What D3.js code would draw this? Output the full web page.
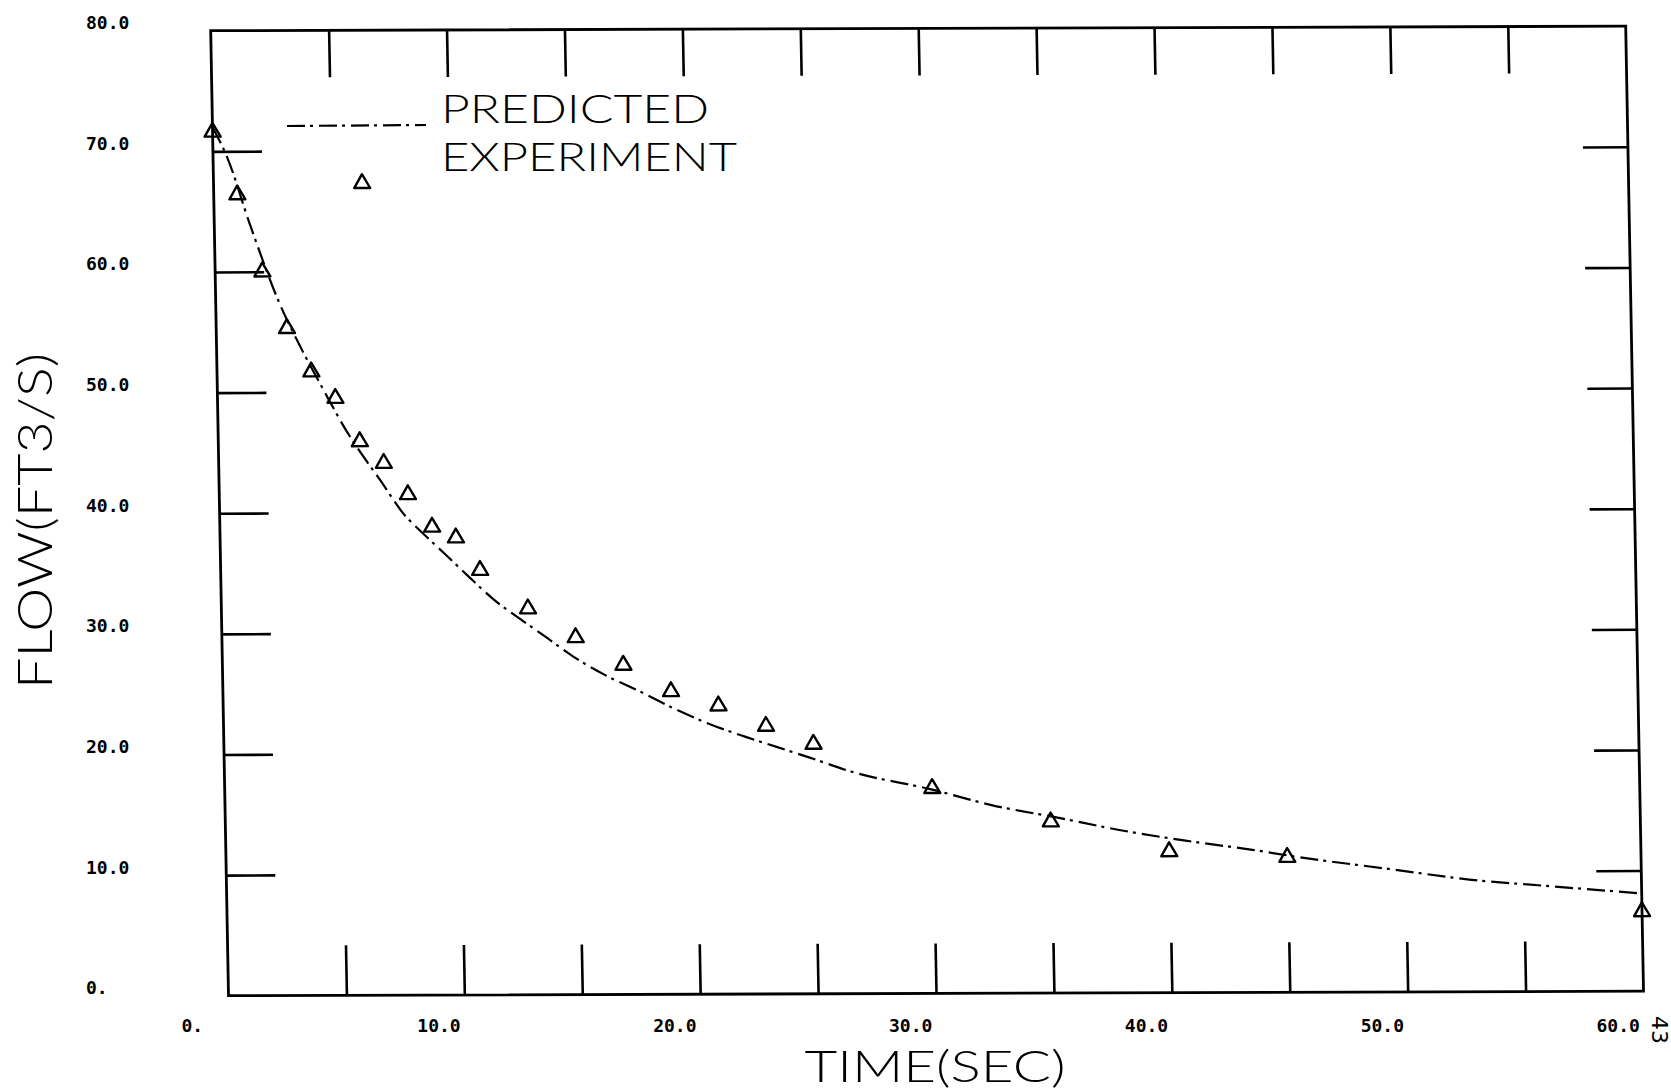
<!DOCTYPE html>
<html>
<head>
<meta charset="utf-8">
<script src="https://cdn.jsdelivr.net/npm/d3@7"></script>
<style>
  body { margin: 0; background: #fff; }
  svg { display: block; }
</style>
</head>
<body>
<div id="chart"></div>
<script>
// measured points (time in s, flow in ft3/s)
const expTime = [0, 1, 2, 3, 4, 5, 6, 6.3, 7, 8, 9, 10, 11, 13, 15, 17, 19, 21, 23, 25, 30, 35, 40, 45, 60];
const expFlow = [71.6, 66.4, 60.0, 55.3, 51.7, 49.5, 45.9, 67.3, 44.1, 41.5, 38.8, 37.9, 35.2, 32.0, 29.6, 27.3, 25.1, 23.9, 22.2, 20.7, 17.0, 14.2, 11.7, 11.2, 6.6];

// predicted curve
const predTime = [0, 0.6, 1.5, 2.7, 3.6, 4.5, 5.5, 6.3, 6.8, 7.8, 8.7, 9.5, 10.5, 11.6, 12.7, 13.7, 14.9, 16.3, 17.7, 19.1, 20.6, 22, 23.4, 24.8, 26.6, 30, 32.5, 35.4, 37.9, 40.7, 43.6, 45.5, 49.3, 52.7, 56.3, 60];
const predFlow = [72.0, 69.5, 64.0, 57.4, 53.6, 50.2, 46.6, 44.2, 42.8, 39.9, 38.1, 36.6, 34.7, 32.7, 31.1, 29.7, 28.0, 26.4, 25.1, 23.7, 22.4, 21.4, 20.5, 19.6, 18.4, 16.9, 15.6, 14.5, 13.5, 12.6, 11.8, 11.2, 10.2, 9.3, 8.7, 8.1];

// ticks and labels
const xTickVals = [5, 10, 15, 20, 25, 30, 35, 40, 45, 50, 55];
const yTickVals = [10, 20, 30, 40, 50, 60, 70];
const xLabelVals = [0, 10, 20, 30, 40, 50, 60];
const xLabels = ["0.", "10.0", "20.0", "30.0", "40.0", "50.0", "60.0"];
const yLabelVals = [80, 70, 60, 50, 40, 30, 20, 10, 0];
const yLabels = ["80.0", "70.0", "60.0", "50.0", "40.0", "30.0", "20.0", "10.0", "0."];
const legendNames = ["PREDICTED", "EXPERIMENT"];

const W = 1415, H = 965;
// the scanned sheet is a little skewed
const sk = { a: 1, b: -0.00319, c: 0.01845, d: 1, e: 210.7, f: 30.7 };
function toPage(px, py) {
  return [sk.e + sk.a * px + sk.c * py, sk.f + sk.b * px + sk.d * py];
}

const svg = d3.select("#chart")
  .append("svg")
  .attr("width", 1671)
  .attr("height", 1092);

const plot = svg.append("g")
  .attr("transform", `matrix(${sk.a},${sk.b},${sk.c},${sk.d},${sk.e},${sk.f})`);

const x = d3.scaleLinear().domain([0, 60]).range([0, W]);
const y = d3.scaleLinear().domain([0, 80]).range([H, 0]);

// inward ticks on all four sides
function ticks(g) {
  g.select(".domain").remove();
  g.selectAll(".tick line").attr("stroke", "#000").attr("stroke-width", 2.6);
}
plot.append("g")
  .attr("transform", `translate(0,${H})`)
  .call(d3.axisBottom(x).tickValues(xTickVals).tickSize(-50).tickFormat(""))
  .call(ticks);
plot.append("g")
  .call(d3.axisTop(x).tickValues(xTickVals).tickSize(-47).tickFormat(""))
  .call(ticks);
plot.append("g")
  .call(d3.axisLeft(y).tickValues(yTickVals).tickSize(-49).tickFormat(""))
  .call(ticks);
plot.append("g")
  .attr("transform", `translate(${W},0)`)
  .call(d3.axisRight(y).tickValues(yTickVals).tickSize(-45).tickFormat(""))
  .call(ticks);

plot.append("rect")
  .attr("width", W)
  .attr("height", H)
  .attr("fill", "none")
  .attr("stroke", "#000")
  .attr("stroke-width", 2.8);

// predicted curve
const pred = predTime.map((t, i) => [t, predFlow[i]]);
plot.append("path")
  .datum(pred)
  .attr("fill", "none")
  .attr("stroke", "#000")
  .attr("stroke-width", 2.2)
  .attr("stroke-dasharray", "18,5,3,6")
  .attr("d", d3.line().x(d => x(d[0])).y(d => y(d[1])).curve(d3.curveMonotoneX));

// experiment triangles
const tri = d3.symbol(d3.symbolTriangle, 110);
plot.selectAll(".pt")
  .data(expTime.map((t, i) => [t, expFlow[i]]))
  .join("path")
  .attr("class", "pt")
  .attr("transform", d => `translate(${x(d[0])},${y(d[1])})`)
  .attr("d", tri)
  .attr("fill", "none")
  .attr("stroke", "#000")
  .attr("stroke-width", 2.4)
  .attr("stroke-linejoin", "round");

// tick labels
const labelFont = "'DejaVu Sans Mono', monospace";
svg.append("g").selectAll("text")
  .data(yLabelVals)
  .join("text")
  .attr("x", 86)
  .attr("y", d => toPage(0, y(d))[1] - 8)
  .attr("dominant-baseline", "central")
  .attr("font-family", labelFont)
  .attr("font-weight", "bold")
  .attr("font-size", 18)
  .text((d, i) => yLabels[i]);

svg.append("g").selectAll("text")
  .data(xLabelVals)
  .join("text")
  .attr("x", d => toPage(x(d), H)[0] - 47)
  .attr("y", 1025)
  .attr("dominant-baseline", "central")
  .attr("font-family", labelFont)
  .attr("font-weight", "bold")
  .attr("font-size", 18)
  .text((d, i) => xLabels[i]);

// legend
const thinFont = "Lato, 'Open Sans', sans-serif";
svg.append("line")
  .attr("x1", 287).attr("y1", 126)
  .attr("x2", 426).attr("y2", 125)
  .attr("stroke", "#000")
  .attr("stroke-width", 2.2)
  .attr("stroke-dasharray", "18,5,3,6");
svg.append("g").selectAll("text")
  .data(legendNames)
  .join("text")
  .attr("x", 441)
  .attr("y", (d, i) => 123 + i * 48)
  .attr("font-family", thinFont)
  .attr("font-weight", 300)
  .attr("font-size", 39)
  .attr("textLength", (d, i) => i === 0 ? 268 : 296)
  .attr("lengthAdjust", "spacingAndGlyphs")
  .text(d => d);

// axis titles
svg.append("text")
  .attr("x", 935)
  .attr("y", 1082)
  .attr("text-anchor", "middle")
  .attr("font-family", thinFont)
  .attr("font-weight", 300)
  .attr("font-size", 44)
  .attr("textLength", 261)
  .attr("lengthAdjust", "spacingAndGlyphs")
  .text("TIME(SEC)");

svg.append("text")
  .attr("transform", "translate(52,521) rotate(-90)")
  .attr("text-anchor", "middle")
  .attr("font-family", thinFont)
  .attr("font-weight", 300)
  .attr("font-size", 48)
  .attr("textLength", 336)
  .attr("lengthAdjust", "spacingAndGlyphs")
  .text("FLOW(FT3/S)");

// page number in the margin
svg.append("text")
  .attr("transform", "translate(1652,1016) rotate(90)")
  .attr("font-family", "'DejaVu Sans', sans-serif")
  .attr("font-size", 22)
  .text("43");
</script>
</body>
</html>
